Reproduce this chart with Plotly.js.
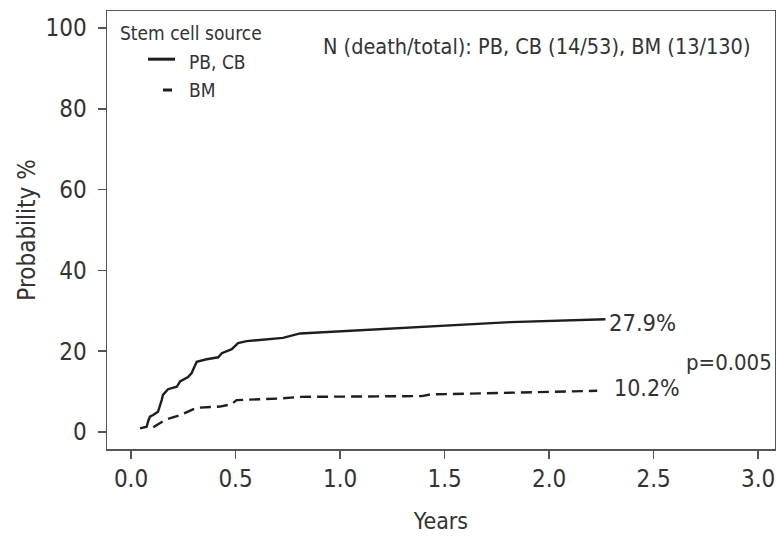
<!DOCTYPE html>
<html>
<head>
<meta charset="utf-8">
<script src="https://cdn.plot.ly/plotly-3.0.1.min.js"></script>
<style>
  html, body { margin: 0; padding: 0; background: #fff; }
  #chart { width: 776px; height: 536px; }
</style>
</head>
<body>
<div id="chart"></div>
<script>
// Cumulative incidence by stem cell source (years vs probability %)
const pbcbYears = [0.0432, 0.0747, 0.0836, 0.0905, 0.1053, 0.129, 0.1466, 0.1527, 0.177, 0.219, 0.2345, 0.2728, 0.290, 0.3142, 0.3617, 0.4172, 0.4344, 0.4818, 0.5121, 0.5535, 0.7271, 0.8089, 1.8155, 2.2698];
const pbcbProb  = [0.9, 1.3, 3.0, 3.8, 4.2, 5.0, 7.9, 9.2, 10.6, 11.2, 12.5, 13.6, 14.6, 17.4, 18.0, 18.5, 19.5, 20.5, 22.0, 22.5, 23.3, 24.4, 27.2, 27.9];

const bmYears = [0.1063, 0.1628, 0.2345, 0.3142, 0.4253, 0.4818, 0.505, 0.713, 0.8089, 1.3915, 1.4309, 1.8155, 2.2304];
const bmProb  = [1.2, 3.0, 4.2, 6.0, 6.3, 6.9, 7.9, 8.3, 8.7, 8.9, 9.3, 9.7, 10.2];

const xTicks = [0, 0.5, 1.0, 1.5, 2.0, 2.5, 3.0];
const xTickLabels = ['0.0', '0.5', '1.0', '1.5', '2.0', '2.5', '3.0'];
const yTicks = [0, 20, 40, 60, 80, 100];

const pbcbFinal = '27.9%';
const bmFinal = '10.2%';
const pValue = 'p=0.005';
const countsNote = 'N (death/total): PB, CB (14/53), BM (13/130)';
const legendTitle = 'Stem cell source';
const seriesNames = ['PB, CB', 'BM'];

const FONT = '"Liberation Sans Narrow", "DejaVu Sans Condensed", "Roboto Condensed", "Liberation Sans", sans-serif';
const INK = '#333333';
const LINE = '#1e1e1e';

const traces = [
  {
    x: pbcbYears, y: pbcbProb, type: 'scatter', mode: 'lines', name: seriesNames[0],
    line: { color: LINE, width: 2.4 }, hoverinfo: 'skip'
  },
  {
    x: bmYears, y: bmProb, type: 'scatter', mode: 'lines', name: seriesNames[1],
    line: { color: LINE, width: 2.4, dash: '11px,6px' }, hoverinfo: 'skip'
  }
];

const axisCommon = {
  showgrid: false, zeroline: false,
  showline: true, linecolor: '#555', linewidth: 1.5, mirror: true,
  ticks: 'outside', ticklen: 8, tickwidth: 1.5, tickcolor: '#555',
  tickfont: { family: FONT, size: 24, color: INK }
};

const layout = {
  width: 776, height: 536,
  margin: { l: 107, r: 1, t: 11, b: 87 },
  paper_bgcolor: '#fff', plot_bgcolor: '#fff',
  showlegend: false,
  font: { family: FONT, color: INK },
  xaxis: Object.assign({}, axisCommon, {
    range: [-0.115, 3.081],
    tickvals: xTicks, ticktext: xTickLabels,
    ticklabeloverflow: 'allow',
    title: { text: 'Years', font: { family: FONT, size: 23, color: INK }, standoff: 20 }
  }),
  yaxis: Object.assign({}, axisCommon, {
    range: [-4.2, 104.2],
    tickvals: yTicks,
    ticklabelstandoff: 6,
    title: { text: 'Probability %', font: { family: FONT, size: 24, color: INK }, standoff: 3 }
  }),
  shapes: [
    // legend keys
    { type: 'line', xref: 'paper', yref: 'paper', x0: 0.0614, x1: 0.1018, y0: 0.890, y1: 0.890,
      line: { color: LINE, width: 3 } },
    { type: 'line', xref: 'paper', yref: 'paper', x0: 0.0838, x1: 0.0973, y0: 0.8196, y1: 0.8196,
      line: { color: LINE, width: 3 } }
  ],
  annotations: [
    { xref: 'paper', yref: 'paper', x: 0.0165, y: 0.950, xanchor: 'left', yanchor: 'middle',
      text: legendTitle, showarrow: false, font: { family: FONT, size: 19, color: INK } },
    { xref: 'paper', yref: 'paper', x: 0.1198, y: 0.884, xanchor: 'left', yanchor: 'middle',
      text: seriesNames[0], showarrow: false, font: { family: FONT, size: 19, color: INK } },
    { xref: 'paper', yref: 'paper', x: 0.1198, y: 0.8196, xanchor: 'left', yanchor: 'middle',
      text: seriesNames[1], showarrow: false, font: { family: FONT, size: 19, color: INK } },
    { xref: 'x', yref: 'y', x: 1.938, y: 95.3, xanchor: 'center', yanchor: 'middle',
      text: countsNote, showarrow: false, font: { family: FONT, size: 21.5, color: INK } },
    { xref: 'x', yref: 'y', x: 2.278, y: 27.0, xanchor: 'left', yanchor: 'middle',
      text: pbcbFinal, showarrow: false, font: { family: FONT, size: 23.5, color: INK } },
    { xref: 'x', yref: 'y', x: 2.301, y: 10.9, xanchor: 'left', yanchor: 'middle',
      text: bmFinal, showarrow: false, font: { family: FONT, size: 23, color: INK } },
    { xref: 'paper', yref: 'y', x: 0.999, y: 17.1, xanchor: 'right', yanchor: 'middle',
      text: pValue, showarrow: false, font: { family: FONT, size: 22, color: INK } }
  ]
};

Plotly.newPlot('chart', traces, layout, { staticPlot: true, displayModeBar: false });
</script>
</body>
</html>
